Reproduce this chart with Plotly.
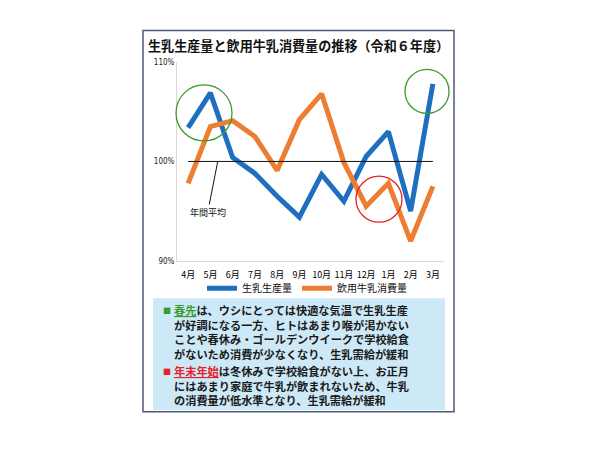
import plotly.graph_objects as go

months = ['4月', '5月', '6月', '7月', '8月', '9月', '10月', '11月', '12月', '1月', '2月', '3月']
production = [103.4, 106.9, 100.4, 98.8, 96.5, 94.4, 98.7, 96.0, 100.5, 103.0, 95.0, 107.8]
consumption = [97.8, 103.5, 104.1, 102.5, 99.1, 104.2, 106.8, 99.9, 95.5, 97.8, 92.0, 97.5]
annual_avg = 100
y_ticks = [90, 100, 110]
y_ticktext = ['90%', '100%', '110%']

title = '生乳生産量と飲用牛乳消費量の推移（令和６年度）'
note1 = [
    '<span style="color:#3a9c2f"><u>春先</u></span>は、ウシにとっては快適な気温で生乳生産',
    'が好調になる一方、ヒトはあまり喉が渇かない',
    'ことや春休み・ゴールデンウイークで学校給食',
    'がないため消費が少なくなり、生乳需給が緩和',
]
note2 = [
    '<span style="color:#e8202a"><u>年末年始</u></span>は冬休みで学校給食がない上、お正月',
    'にはあまり家庭で牛乳が飲まれないため、牛乳',
    'の消費量が低水準となり、生乳需給が緩和',
]

W, H = 600, 450
OFF = 8  # page body margin shifts the figure by this many pixels
JP = 'Noto Sans CJK JP'


def px(x):
    return (x - OFF) / W


def py(y):
    return 1 - (y - OFF) / H


fig = go.Figure()
fig.add_trace(go.Scatter(x=months, y=production, name='生乳生産量', mode='lines',
                         line=dict(color='#1f6fc0', width=5)))
fig.add_trace(go.Scatter(x=months, y=consumption, name='飲用牛乳消費量', mode='lines',
                         line=dict(color='#ed7d31', width=5)))

shapes = [
    # note box
    dict(type='rect', xref='paper', yref='paper', x0=px(153), x1=px(445), y0=py(414), y1=py(300),
         fillcolor='#cde8f6', line=dict(width=0), layer='below'),
    # outer frame
    dict(type='rect', xref='paper', yref='paper', x0=px(143), x1=px(454), y0=py(416), y1=py(27),
         line=dict(color='#4a5a78', width=1.5), layer='above'),
    # annual average
    dict(type='line', xref='x', yref='y', x0=months[0], x1=months[-1], y0=annual_avg, y1=annual_avg,
         line=dict(color='#111111', width=1)),
]
# highlight circles (centre in page pixels, radius in pixels)
for cx, cy, r, col in [(204, 111, 28, '#3f9a2c'), (427, 89, 22, '#3f9a2c'), (379, 199, 23, '#e82020')]:
    shapes.append(dict(type='circle', xref='paper', yref='paper', xsizemode='pixel', ysizemode='pixel',
                       xanchor=px(cx), yanchor=py(cy), x0=-r, x1=r, y0=-r, y1=r,
                       line=dict(color=col, width=1.3)))

annotations = [
    dict(text='<b>' + title + '</b>', xref='paper', yref='paper', x=px(298), y=py(42),
         xanchor='center', yanchor='middle', showarrow=False,
         font=dict(family=JP, size=13.1, color='#111111')),
    dict(text='年間平均', xref='x', yref='y', x=1.33, y=annual_avg, ax=-10, ay=51,
         showarrow=True, arrowhead=0, arrowwidth=1, arrowcolor='#111111',
         font=dict(family=JP, size=9, color='#111111')),
    dict(text='<b>' + '<br>'.join(note1) + '</b>', xref='paper', yref='paper', x=px(172),
         y=py(334.5), xanchor='left', yanchor='middle', align='left', showarrow=False,
         font=dict(family=JP, size=11.2, color='#1a1a1a')),
    dict(text='<b>' + '<br>'.join(note2) + '</b>', xref='paper', yref='paper', x=px(172),
         y=py(389), xanchor='left', yanchor='middle', align='left', showarrow=False,
         font=dict(family=JP, size=11.2, color='#1a1a1a')),
    dict(text='■', xref='paper', yref='paper', x=px(167), y=py(313), xanchor='center',
         yanchor='middle', showarrow=False, font=dict(family=JP, size=8, color='#3a9c2f')),
    dict(text='■', xref='paper', yref='paper', x=px(167), y=py(375), xanchor='center',
         yanchor='middle', showarrow=False, font=dict(family=JP, size=8, color='#e8202a')),
]

fig.update_layout(
    width=W, height=H,
    margin=dict(l=0, r=0, t=0, b=0),
    paper_bgcolor='white', plot_bgcolor='white',
    shapes=shapes,
    annotations=annotations,
    showlegend=True,
    legend=dict(orientation='h', x=px(307), xanchor='center', y=py(290), yanchor='middle',
                font=dict(family=JP, size=10, color='#111111'), bgcolor='rgba(0,0,0,0)',
                itemwidth=30, tracegroupgap=0),
    xaxis=dict(domain=[px(177), px(444)], type='category', range=[-0.5, 11.5], autorange=False,
               showgrid=False, zeroline=False, showline=True, linecolor='#d9d9d9', linewidth=1,
               ticks='', ticklabelstandoff=5,
               tickfont=dict(family=JP, size=9, color='#000000')),
    yaxis=dict(domain=[py(262), py(59)], range=[90, 110], autorange=False,
               tickvals=y_ticks, ticktext=y_ticktext,
               showgrid=False, zeroline=False, showline=True, linecolor='#d9d9d9', linewidth=1,
               ticks='', tickfont=dict(family='Liberation Sans Narrow, DejaVu Sans Condensed', size=8,
                                       color='#222222')),
)

fig.write_html('out.html')
